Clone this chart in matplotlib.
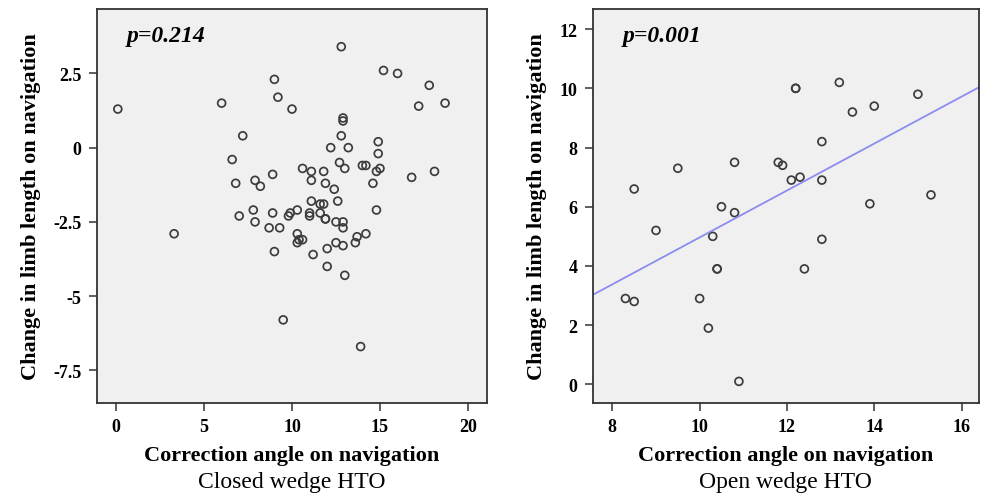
import matplotlib
matplotlib.use('Agg')
import matplotlib.pyplot as plt
import numpy as np

# Closed wedge HTO
closed_x = [0.1, 12.8, 15.2, 16.0, 17.8, 18.7, 17.2, 9.0, 9.2, 10.0, 6.0, 12.9, 12.9, 12.8,
            12.2, 13.2, 14.9, 14.9, 7.2, 6.6, 12.7, 13.0, 14.0, 14.2, 15.0, 14.8, 18.1, 16.8,
            14.6, 10.6, 11.1, 11.8, 8.9, 7.9, 8.2, 6.8, 11.1, 11.9, 12.4,
            11.1, 11.6, 11.8, 12.6, 7.8, 8.9, 9.9, 9.8, 10.3, 11.0, 11.0, 11.6, 11.9, 11.9,
            14.8, 7.0, 7.9, 8.7, 9.3, 12.5, 12.9, 12.9, 3.3, 10.3, 10.4, 10.6, 10.3, 13.7,
            14.2, 13.6, 12.5, 12.9, 12.0, 9.0, 11.2, 12.0, 13.0, 9.5, 13.9]
closed_y = [1.3, 3.4, 2.6, 2.5, 2.1, 1.5, 1.4, 2.3, 1.7, 1.3, 1.5, 1.0, 0.9, 0.4,
            0.0, 0.0, 0.2, -0.2, 0.4, -0.4, -0.5, -0.7, -0.6, -0.6, -0.7, -0.8, -0.8, -1.0,
            -1.2, -0.7, -0.8, -0.8, -0.9, -1.1, -1.3, -1.2, -1.1, -1.2, -1.4,
            -1.8, -1.9, -1.9, -1.8, -2.1, -2.2, -2.2, -2.3, -2.1, -2.2, -2.3, -2.2, -2.4, -2.4,
            -2.1, -2.3, -2.5, -2.7, -2.7, -2.5, -2.5, -2.7, -2.9, -2.9, -3.1, -3.1, -3.2, -3.0,
            -2.9, -3.2, -3.2, -3.3, -3.4, -3.5, -3.6, -4.0, -4.3, -5.8, -6.7]

# Open wedge HTO
open_x = [8.5, 9.5, 10.8, 11.8, 11.9, 12.1, 12.3, 12.8, 12.8, 12.2, 12.2, 13.2, 13.5, 14.0,
          15.0, 15.3, 13.9, 10.5, 10.8, 9.0, 10.3, 12.8, 10.4, 10.4, 12.4, 8.3, 8.5, 10.0,
          10.2, 10.9]
open_y = [6.6, 7.3, 7.5, 7.5, 7.4, 6.9, 7.0, 6.9, 8.2, 10.0, 10.0, 10.2, 9.2, 9.4,
          9.8, 6.4, 6.1, 6.0, 5.8, 5.2, 5.0, 4.9, 3.9, 3.9, 3.9, 2.9, 2.8, 2.9,
          1.9, 0.1]

closed_xticks = [0, 5, 10, 15, 20]
closed_yticks = [2.5, 0, -2.5, -5, -7.5]
closed_yticklabels = ['2.5', '0', '-2.5', '-5', '-7.5']
open_xticks = [8, 10, 12, 14, 16]
open_yticks = [0, 2, 4, 6, 8, 10, 12]

plt.rcParams['font.family'] = ['Liberation Serif', 'DejaVu Serif']

fig = plt.figure(figsize=(9.82, 5.02), dpi=100)
ax1 = fig.add_axes([96.7 / 982, 1 - 404 / 502, (487.3 - 96.7) / 982, (404 - 10) / 502])
ax2 = fig.add_axes([592.7 / 982, 1 - 404 / 502, (979 - 592.7) / 982, (404 - 10) / 502])

def estilo(ax):
    ax.set_facecolor('#f0f0f0')
    for lado in ['top', 'right', 'bottom', 'left']:
        ax.spines[lado].set_color('#333333')
        ax.spines[lado].set_linewidth(1.3)
    ax.tick_params(direction='out', length=6, width=1.1, color='#333333',
                   labelsize=13, top=False, right=False, pad=5)
    for lbl in ax.get_xticklabels() + ax.get_yticklabels():
        lbl.set_fontweight('bold')
    ax.set_xlabel('Correction angle on navigation', fontsize=16, fontweight='bold', labelpad=7)
    ax.set_ylabel('Change in limb length on navigation', fontsize=16, fontweight='bold', labelpad=9)

# Panel izquierdo
ax1.scatter(closed_x, closed_y, s=32, facecolors='none', edgecolors='#3c3c3c', linewidths=1.25)
ax1.set_xlim(-1.1, 21.1)
ax1.set_ylim(-8.6, 4.67)
ax1.set_xticks(closed_xticks)
ax1.set_yticks(closed_yticks)
ax1.set_yticklabels(closed_yticklabels)
estilo(ax1)
ax1.text(0.078, 0.96, 'p=0.214', transform=ax1.transAxes, fontsize=17,
         fontweight='bold', fontstyle='italic', va='top')

# Panel derecho
ax2.scatter(open_x, open_y, s=32, facecolors='none', edgecolors='#3c3c3c', linewidths=1.25)
pend, corte = np.polyfit(open_x, open_y, 1)
xs = np.array([7.55, 16.4])
ax2.plot(xs, corte + pend * xs, color='#8c8cf0', linewidth=1.3)
ax2.set_xlim(7.55, 16.4)
ax2.set_ylim(-0.63, 12.68)
ax2.set_xticks(open_xticks)
ax2.set_yticks(open_yticks)
estilo(ax2)
ax2.text(0.078, 0.96, 'p=0.001', transform=ax2.transAxes, fontsize=17,
         fontweight='bold', fontstyle='italic', va='top')

# Subtitulos
fig.text((96.7 + 487.3) / 2 / 982, 1 - 483 / 502, 'Closed wedge HTO', ha='center', va='center', fontsize=17)
fig.text((592.7 + 979) / 2 / 982, 1 - 483 / 502, 'Open wedge HTO', ha='center', va='center', fontsize=17)

fig.savefig('out.png', dpi=100)
